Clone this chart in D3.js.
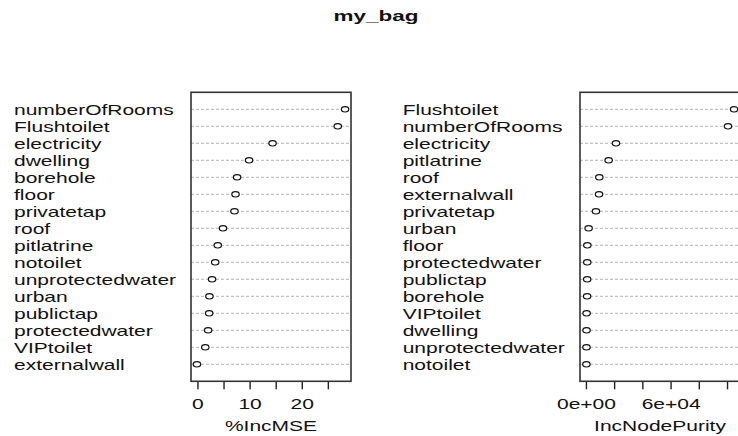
<!DOCTYPE html>
<html>
<head>
<meta charset="utf-8">
<script src="https://cdn.jsdelivr.net/npm/d3@7"></script>
<style>
  html, body { margin: 0; padding: 0; background: #fff; }
  svg { display: block; }
  text { font-family: "Liberation Sans", Arial, sans-serif; fill: #111; }
</style>
</head>
<body>
<svg id="chart" width="738" height="436"></svg>
<script>
// Variable importance, %IncMSE panel (sorted, top to bottom)
const mseVars = ["numberOfRooms", "Flushtoilet", "electricity", "dwelling", "borehole",
  "floor", "privatetap", "roof", "pitlatrine", "notoilet", "unprotectedwater", "urban",
  "publictap", "protectedwater", "VIPtoilet", "externalwall"];
const mseVals = [28.3, 26.9, 14.4, 9.9, 7.6, 7.3, 7.1, 4.9, 3.9, 3.4, 2.8, 2.3,
  2.25, 2.05, 1.5, -0.1];

// Variable importance, IncNodePurity panel (sorted, top to bottom)
const purityVars = ["Flushtoilet", "numberOfRooms", "electricity", "pitlatrine", "roof",
  "externalwall", "privatetap", "urban", "floor", "protectedwater", "publictap",
  "borehole", "VIPtoilet", "dwelling", "unprotectedwater", "notoilet"];
const purityVals = [105000, 100700, 21300, 16100, 9500, 9300, 7100, 1900, 1000,
  950, 900, 850, 500, 450, 400, 350];

// Axis ticks and the labels that are printed
const mseTicks = [0, 5, 10, 15, 20, 25];
const mseTickLabels = ["0", "", "10", "", "20", ""];
const purityTicks = [0, 20000, 40000, 60000, 80000, 100000];
const purityTickLabels = ["0e+00", "", "", "6e+04", "", ""];

const title = "my_bag";

const svg = d3.select("#chart");
const SX = 1.5;       // horizontal text stretch
const FS = 14;        // base font size

function stretchText(sel) {
  sel.each(function () {
    const t = d3.select(this);
    const x = +t.attr("x") || 0, y = +t.attr("y") || 0;
    t.attr("x", null).attr("y", null)
     .attr("transform", `translate(${x},${y}) scale(${SX},1)`);
  });
}

// Title
svg.append("text")
  .attr("x", 376).attr("y", 21)
  .attr("text-anchor", "middle")
  .style("font-size", "15px").style("font-weight", "bold")
  .text(title)
  .call(stretchText);

const boxTop = 92.3, boxBottom = 381.3;

function panel(opts) {
  const { vars, vals, left, right, labelX, ticks, tickLabels, lowerZero, axisTitle } = opts;
  const n = vars.length;
  // R-style x range: data range padded by 4% on each side
  const lo = lowerZero ? 0 : d3.min(vals);
  const hi = d3.max(vals);
  const pad = 0.04 * (hi - lo);
  const x = d3.scaleLinear().domain([lo - pad, hi + pad]).range([left, right]);
  const y = d3.scaleLinear().domain([0, n + 1]).range([boxBottom, boxTop]);

  const g = svg.append("g");
  const rows = vars.map((v, i) => ({ name: v, value: vals[i], pos: n - i }));

  // dotted guide lines
  g.selectAll("line.guide").data(rows).enter().append("line")
    .attr("class", "guide")
    .attr("x1", left).attr("x2", right)
    .attr("y1", d => y(d.pos)).attr("y2", d => y(d.pos))
    .attr("stroke", "#b4b4b4").attr("stroke-width", 1)
    .attr("stroke-dasharray", "3,2");

  // row labels
  g.selectAll("text.lab").data(rows).enter().append("text")
    .attr("class", "lab")
    .attr("x", labelX).attr("y", d => y(d.pos))
    .attr("dy", "0.4em")
    .style("font-size", FS + "px")
    .text(d => d.name)
    .call(stretchText);

  // open circles
  g.selectAll("ellipse.pt").data(rows).enter().append("ellipse")
    .attr("class", "pt")
    .attr("cx", d => x(d.value)).attr("cy", d => y(d.pos))
    .attr("rx", 3.7).attr("ry", 2.7)
    .attr("fill", "#fff").attr("stroke", "#111").attr("stroke-width", 1.2);

  // bottom axis
  const axis = d3.axisBottom(x)
    .tickValues(ticks)
    .tickSize(8)
    .tickPadding(0)
    .tickFormat((d, i) => tickLabels[i]);
  const ax = svg.append("g")
    .attr("transform", `translate(0,${boxBottom})`)
    .call(axis);
  ax.select(".domain").remove();
  ax.selectAll(".tick line").attr("stroke", "#222").attr("stroke-width", 1.4);
  ax.selectAll(".tick text")
    .attr("fill", "#111")
    .style("font-size", FS + "px")
    .style("font-family", "'Liberation Sans', Arial, sans-serif")
    .attr("y", 23).attr("dy", "0.36em")
    .call(stretchText);

  // axis title
  svg.append("text")
    .attr("x", (left + right) / 2).attr("y", 426)
    .attr("dy", "0.36em")
    .attr("text-anchor", "middle")
    .style("font-size", FS + "px")
    .text(axisTitle)
    .call(stretchText);

  // plot box
  svg.append("rect")
    .attr("x", left).attr("y", boxTop)
    .attr("width", right - left).attr("height", boxBottom - boxTop)
    .attr("fill", "none").attr("stroke", "#333").attr("stroke-width", 1.6);
}

panel({
  vars: mseVars, vals: mseVals, left: 191, right: 351, labelX: 14,
  ticks: mseTicks, tickLabels: mseTickLabels, lowerZero: false, axisTitle: "%IncMSE"
});
panel({
  vars: purityVars, vals: purityVals, left: 580, right: 740, labelX: 402.7,
  ticks: purityTicks, tickLabels: purityTickLabels, lowerZero: true, axisTitle: "IncNodePurity"
});
</script>
</body>
</html>
